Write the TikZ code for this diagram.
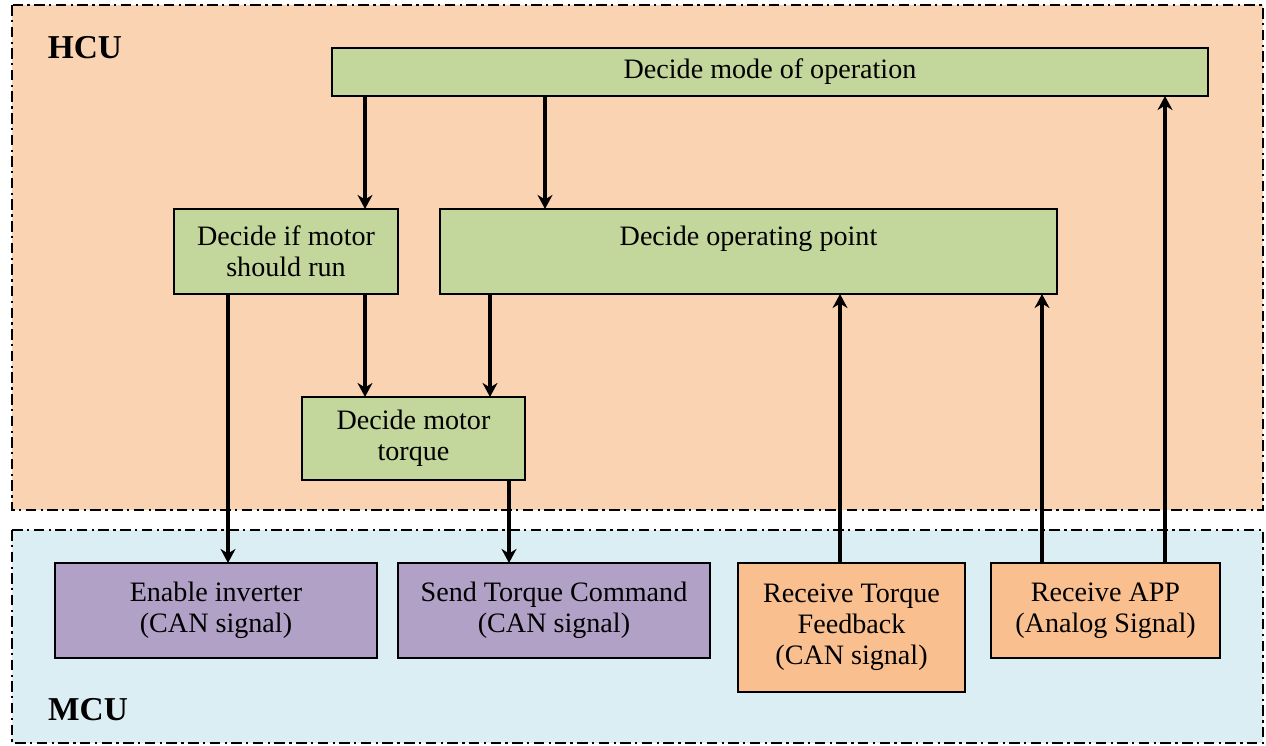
\documentclass[tikz,border=0pt]{standalone}
\usepackage{fontspec}
\setmainfont{Liberation Serif}
\usetikzlibrary{arrows.meta}

\definecolor{hcufill}{HTML}{FAD3B3}
\definecolor{mcufill}{HTML}{DBEEF3}
\definecolor{greenbox}{HTML}{C3D69B}
\definecolor{purplebox}{HTML}{B2A1C7}
\definecolor{orangebox}{HTML}{F9BF8F}

\tikzset{
  region/.style={line width=1.3pt, dash pattern=on 6pt off 2.5pt on 1.3pt off 2.5pt},
  block/.style={draw, line width=1pt, outer sep=0pt, inner sep=2pt, align=center,
    font=\fontsize{16}{17.6}\selectfont},
  decide/.style={block, fill=greenbox},
  send/.style={block, fill=purplebox},
  receive/.style={block, fill=orangebox},
  arr/.style={-{Stealth[length=8pt,width=8.5pt]}, line width=2.2pt},
  unitlabel/.style={font=\fontsize{19}{20}\selectfont\bfseries}
}

\begin{document}
\begin{tikzpicture}[x=0.02cm, y=-0.02cm]
                \useasboundingbox (0, 0) rectangle (1266, 746);
                % regions
                \fill[hcufill] (12, 5) rectangle (1263, 510);
                \draw[region] (12, 5) rectangle (1263, 510);
                \fill[mcufill] (12, 530) rectangle (1263, 743);
                \draw[region] (12, 530) rectangle (1263, 743);
                \node[unitlabel] (hcu) at (85, 48) {HCU};
                \node[unitlabel] (mcu) at (88, 710) {MCU};
                % HCU blocks
                \node[decide, minimum width=17.52cm, minimum height=0.96cm] (mode) at (770, 72) {Decide mode of operation};
                \node[decide, minimum width=4.48cm, minimum height=1.7cm] (ifrun) at (286, 251.5) {Decide if motor\\should run};
                \node[decide, minimum width=12.34cm, minimum height=1.7cm] (oppt) at (748.5, 251.5) {Decide operating point\\~};
                \node[decide, minimum width=4.46cm, minimum height=1.66cm] (torque) at (413.5, 438.5) {Decide motor\\torque};
                % MCU blocks
                \node[send, minimum width=6.44cm, minimum height=1.9cm] (enable) at (216, 610.5) {Enable inverter\\(CAN signal)};
                \node[send, minimum width=6.24cm, minimum height=1.9cm] (cmd) at (554, 610.5) {Send Torque Command\\(CAN signal)};
                \node[receive, minimum width=4.54cm, minimum height=2.58cm] (fb) at (851.5, 627.5) {Receive Torque\\Feedback\\(CAN signal)};
                \node[receive, minimum width=4.58cm, minimum height=1.9cm] (app) at (1105.5, 610.5) {Receive APP\\(Analog Signal)};
                % columns of the connectors
                \coordinate (c1) at (228, 0);
                \coordinate (c2) at (365, 0);
                \coordinate (c3) at (490, 0);
                \coordinate (c4) at (509, 0);
                \coordinate (c5) at (545, 0);
                \coordinate (c6) at (840, 0);
                \coordinate (c7) at (1042, 0);
                \coordinate (c8) at (1165, 0);
                % connectors
                \draw[arr] (mode.south -| c2) -- (ifrun.north -| c2);
                \draw[arr] (mode.south -| c5) -- (oppt.north -| c5);
                \draw[arr] (ifrun.south -| c1) -- (enable.north -| c1);
                \draw[arr] (ifrun.south -| c2) -- (torque.north -| c2);
                \draw[arr] (oppt.south -| c3) -- (torque.north -| c3);
                \draw[arr] (torque.south -| c4) -- (cmd.north -| c4);
                \draw[arr] (fb.north -| c6) -- (oppt.south -| c6);
                \draw[arr] (app.north -| c7) -- (oppt.south -| c7);
                \draw[arr] (app.north -| c8) -- (mode.south -| c8);
            \end{tikzpicture}
\end{document}
